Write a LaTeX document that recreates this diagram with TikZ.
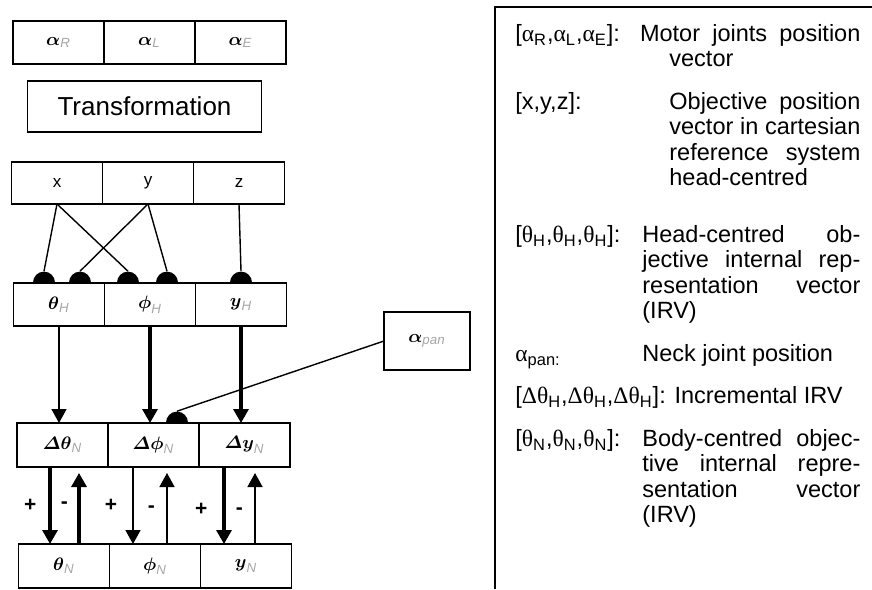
\documentclass[tikz,border=0pt]{standalone}
\usepackage{amsmath}
\usepackage{fontspec}
\setmainfont{Liberation Sans}
\newfontfamily\grk{Liberation Serif}
\usetikzlibrary{positioning, arrows.meta, shapes.geometric}

\newcommand{\cellvar}[2]{$\boldsymbol{#1}_{\color{gray!70}\mathit{#2}}$}
\newcommand{\gsub}[2]{{\grk #1}\textsubscript{#2}}
\newlength{\legw}\setlength{\legw}{172.5pt}
\newlength{\colA}\setlength{\colA}{77pt}
\newlength{\colB}\setlength{\colB}{63.5pt}
\newcommand{\spread}[2]{\makebox[\dimexpr\legw-#1\relax][s]{#2}}

\begin{document}
\begin{tikzpicture}[x=0.5pt, y=-0.5pt, node distance=0pt]
    \tikzstyle{cell} = [rectangle,minimum width=45.5pt,minimum height=21.5pt,inner sep=0pt,outer sep=0pt,draw=black,line width=0.8pt,fill=white,font=\fontsize{9.5}{10}\selectfont]
    \tikzstyle{blob} = [semicircle,fill=black,inner sep=0pt,minimum size=5.5pt,anchor=chord center]
    \tikzstyle{wire} = [line width=0.7pt]
    \tikzstyle{feed} = [line width=0.75pt,-{Triangle[width=7.5pt,length=7pt]}]
    \tikzstyle{feedbold} = [line width=1.6pt,-{Triangle[width=7.5pt,length=7pt]}]
    \tikzstyle{sign} = [inner sep=0pt,font=\bfseries\fontsize{10.5}{12}\selectfont]
    \tikzstyle{legend} = [align=left,inner sep=0pt,font=\fontsize{11.75}{12.75}\selectfont]

    \useasboundingbox (0,0) rectangle (872,589);

    \node (aR) [cell] at (58.5,42.5) {\cellvar{\alpha}{R}};
    \node (aL) [cell, right=of aR] {\cellvar{\alpha}{L}};
    \node (aE) [cell, right=of aL] {\cellvar{\alpha}{E}};

    \node (trans) [cell, minimum width=117pt, minimum height=25.5pt, font=\fontsize{13}{15}\selectfont, below=8.5pt of aL, xshift=-2.5pt] {Transformation};

    \node (x) [cell, font=\fontsize{8.5}{10}\selectfont, minimum height=21pt, below=49pt of aR, xshift=-0.75pt] {x};
    \node (y) [cell, font=\fontsize{8.5}{10}\selectfont, minimum height=21pt, right=of x] {y};
    \node (z) [cell, font=\fontsize{8.5}{10}\selectfont, minimum height=21pt, right=of y] {z};

    \node (th) [cell, below=39.5pt of x, xshift=1pt] {\cellvar{\theta}{H}};
    \node (ph) [cell, right=of th] {\cellvar{\phi}{H}};
    \node (ps) [cell, right=of ph] {\cellvar{y}{H}};

    \node (dth) [cell, minimum height=22pt, below=48.5pt of th, xshift=1.75pt] {\cellvar{\varDelta\theta}{N}};
    \node (dph) [cell, minimum height=22pt, right=of dth] {\cellvar{\varDelta\phi}{N}};
    \node (dps) [cell, minimum height=22pt, right=of dph] {\cellvar{\varDelta y}{N}};

    \node (nth) [cell, minimum height=22pt, below=38.5pt of dth, xshift=0.75pt] {\cellvar{\theta}{N}};
    \node (nph) [cell, minimum height=22pt, right=of nth] {\cellvar{\phi}{N}};
    \node (nps) [cell, minimum height=22pt, right=of nph] {\cellvar{y}{N}};

    \node (pan) [cell, minimum width=43pt, minimum height=29pt] at (427,341) {\cellvar{\alpha}{pan}};

    % inputs of the head-centred IRV
    \node (bx1) [blob] at ([xshift=-7.5pt]th.north) {};
    \node (by1) [blob] at ([xshift=10.5pt]th.north) {};
    \node (bx2) [blob] at ([xshift=-11pt]ph.north) {};
    \node (by2) [blob] at ([xshift=8.5pt]ph.north) {};
    \node (bz) [blob] at (ps.north) {};
    \node (bpan) [blob] at ([xshift=11.75pt]dph.north) {};

    \draw [wire] (x.south) -- (bx1.apex);
    \draw [wire] (x.south) -- (bx2.apex);
    \draw [wire] (y.south) -- (by1.apex);
    \draw [wire] (y.south) -- (by2.apex);
    \draw [wire] (z.south) -- (bz.apex);
    \draw [wire] (pan.west) -- (bpan.apex);

    \draw [feed] (th.south) -- (th.south |- dth.north);
    \draw [feedbold] (ph.south) -- (ph.south |- dph.north);
    \draw [feedbold] (ps.south) -- (ps.south |- dps.north);

    % increments
    \coordinate (p1) at ([xshift=-6.25pt]dth.south);
    \coordinate (m1) at ([xshift=8.25pt]dth.south);
    \coordinate (p2) at ([xshift=-10.25pt]dph.south);
    \coordinate (m2) at ([xshift=6.75pt]dph.south);
    \coordinate (p3) at ([xshift=-10.25pt]dps.south);
    \coordinate (m3) at ([xshift=5.25pt]dps.south);

    \draw [feedbold] (p1) -- node [sign, left=6pt] {+} (p1 |- nth.north);
    \draw [feedbold, shorten >=3pt] (m1 |- nth.north) -- node [sign, left=4.75pt] {-} (m1);
    \draw [feed] (p2) -- node [sign, left=7.5pt] {+} (p2 |- nph.north);
    \draw [feed, shorten >=3pt] (m2 |- nph.north) -- node [sign, left=5.75pt, yshift=-2pt] {-} (m2);
    \draw [feedbold] (p3) -- node [sign, left=7.5pt, yshift=-2pt] {+} (p3 |- nps.north);
    \draw [feed, shorten >=3pt] (m3 |- nps.north) -- node [sign, left=5.75pt, yshift=-3pt] {-} (m3);

    % legend
    \draw [line width=0.8pt] (872,7) -| (495,589);
    \node (legend) [legend, anchor=north west] at (515,24) {%
        \makebox[\legw][s]{[\gsub{α}{R},\gsub{α}{L},\gsub{α}{E}]: Motor joints position}\\
        \hspace*{\colA}vector\\[8.5pt]
        \makebox[\colA][l]{[x,y,z]:}\spread{\colA}{Objective position}\\
        \hspace*{\colA}\spread{\colA}{vector in cartesian}\\
        \hspace*{\colA}\spread{\colA}{reference system}\\
        \hspace*{\colA}head-centred\\[15.5pt]
        \makebox[\colB][l]{[\gsub{θ}{H},\gsub{θ}{H},\gsub{θ}{H}]:}\spread{\colB}{Head-centred ob-}\\
        \hspace*{\colB}\spread{\colB}{jective internal rep-}\\
        \hspace*{\colB}\spread{\colB}{resentation vector}\\
        \hspace*{\colB}(IRV)\\[8.5pt]
        \makebox[\colB][l]{\gsub{α}{pan:}}Neck joint position\\[8.5pt]
        [\gsub{Δθ}{H},\gsub{Δθ}{H},\gsub{Δθ}{H}]: Incremental IRV\\[8.5pt]
        \makebox[\colB][l]{[\gsub{θ}{N},\gsub{θ}{N},\gsub{θ}{N}]:}\spread{\colB}{Body-centred objec-}\\
        \hspace*{\colB}\spread{\colB}{tive internal repre-}\\
        \hspace*{\colB}\spread{\colB}{sentation vector}\\
        \hspace*{\colB}(IRV)};
\end{tikzpicture}
\end{document}
